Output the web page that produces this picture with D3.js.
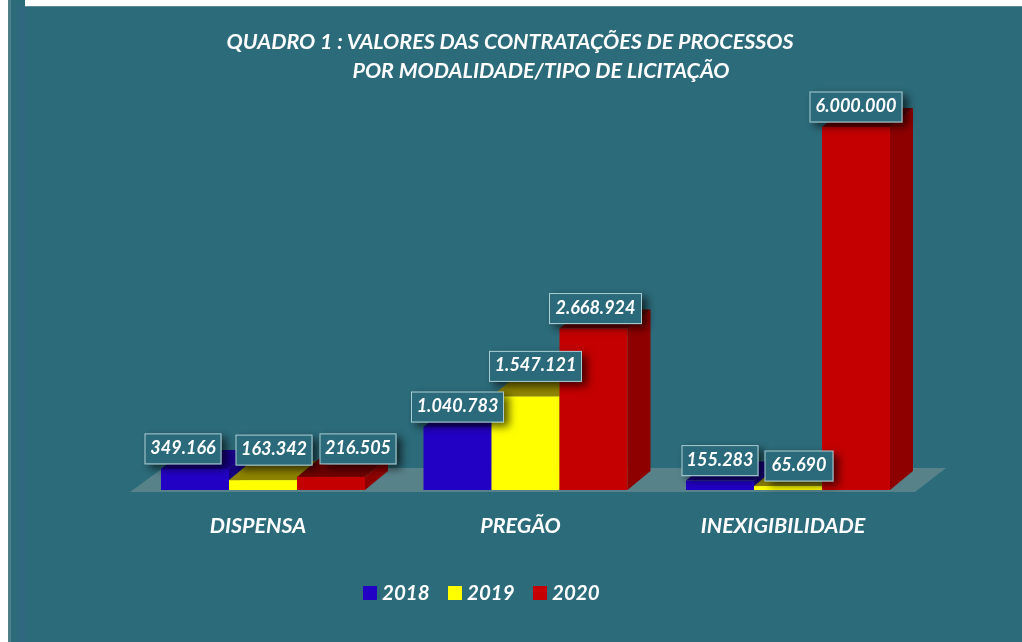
<!DOCTYPE html>
<html>
<head>
<meta charset="utf-8">
<script src="https://cdn.jsdelivr.net/npm/d3@7"></script>
<style>
html, body { margin: 0; padding: 0; background: #fff; }
svg { display: block; }
text { font-family: Lato, "Open Sans", sans-serif; font-weight: 700; font-style: italic; fill: #fff; }
</style>
</head>
<body>
<script>
const categories = ['DISPENSA', 'PREGÃO', 'INEXIGIBILIDADE'];
const years = ['2018', '2019', '2020'];
const values2018 = [349166, 1040783, 155283];
const values2019 = [163342, 1547121, 65690];
const values2020 = [216505, 2668924, 6000000];
const titleLines = ['QUADRO 1 : VALORES DAS CONTRATAÇÕES DE PROCESSOS', 'POR MODALIDADE/TIPO DE LICITAÇÃO'];

const width = 1022;
const height = 642;
const baseY = 490;   //Bottom of the bars.
const depthX = 23;   //Fake 3D offset of the bars.
const depthY = 19;

const series = [values2018, values2019, values2020];
const frontColours = ['#2200c4', '#ffff00', '#c40000'];
const topColours = ['#17008a', '#8f8500', '#6f0000'];
const sideColours = ['#150080', '#8f8500', '#8e0000'];

//Label box offset from the default spot above each bar: [series][category]
const labelNudge = [
  [[-12, 0], [0, 0], [0, 0]],
  [[11, -10], [10, -10], [11, 0]],
  [[27, -8], [2, 0], [0, 0]]
];

const x0 = d3.scaleBand().domain(categories).range([161, 890]).paddingInner(0.2229);
const x1 = d3.scaleBand().domain(years).range([0, x0.bandwidth()]);
const y = d3.scaleLinear().domain([0, 6000000]).range([baseY, 127]);
const fmt = d3.formatLocale({ decimal: ',', thousands: '.', grouping: [3], currency: ['', ''] }).format(',d');

const svg = d3.select('body').append('svg').attr('width', width).attr('height', height);
const defs = svg.append('defs');

const shadow = defs.append('filter').attr('id', 'box-shadow')
  .attr('x', '-30%').attr('y', '-40%').attr('width', '170%').attr('height', '190%');
shadow.append('feDropShadow').attr('dx', 5).attr('dy', 4).attr('stdDeviation', 4.5)
  .attr('flood-color', '#000').attr('flood-opacity', 0.65);

const soft = defs.append('filter').attr('id', 'soft');
soft.append('feGaussianBlur').attr('stdDeviation', 0.45);

//Panel
svg.append('rect').attr('x', 8).attr('y', 7).attr('width', width - 8).attr('height', height - 7).attr('fill', '#2c6b7a');
svg.append('rect').attr('x', 8).attr('y', 0).attr('width', 17).attr('height', 7).attr('fill', '#2c6b7a');
svg.append('rect').attr('x', 8).attr('y', 0).attr('width', 3).attr('height', height).attr('fill', '#4f7f88');
svg.append('rect').attr('x', 17).attr('y', 7).attr('width', 8).attr('height', height - 7).attr('fill', '#30697f');
svg.append('rect').attr('x', 25).attr('y', 6).attr('width', width - 25).attr('height', 1).attr('fill', '#5d8c97');

//Title
svg.append('text').attr('x', 510).attr('y', 49).attr('text-anchor', 'middle')
  .style('font-size', '21.5px').attr('filter', 'url(#soft)').text(titleLines[0]);
svg.append('text').attr('x', 541).attr('y', 78).attr('text-anchor', 'middle')
  .style('font-size', '21.5px').attr('filter', 'url(#soft)').text(titleLines[1]);

//Floor
svg.append('path').attr('d', d3.line()([[130, 492], [163, 468], [946, 468], [915, 492]])).attr('fill', '#58828a');

//Bars, back to front so the side faces overlap correctly
const bars = [];
categories.forEach((c, ci) => {
  years.forEach((yr, si) => {
    bars.push({ c, yr, si, ci, v: series[si][ci] });
  });
});

const barWidth = x1.bandwidth();
const barG = svg.append('g');

barG.selectAll('g').data(bars).enter().append('g').each(function (d) {
  const g = d3.select(this);
  const left = x0(d.c) + x1(d.yr);
  const right = left + barWidth;
  const top = y(d.v);
  //Top face
  g.append('path')
    .attr('d', d3.line()([[left, top], [left + depthX, top - depthY], [right + depthX, top - depthY], [right, top]]))
    .attr('fill', topColours[d.si]);
  //Side face
  g.append('path')
    .attr('d', d3.line()([[right, top], [right + depthX, top - depthY], [right + depthX, baseY - depthY], [right, baseY]]))
    .attr('fill', sideColours[d.si]);
});

barG.selectAll('rect').data(bars).enter().append('rect')
  .attr('x', d => x0(d.c) + x1(d.yr))
  .attr('y', d => y(d.v))
  .attr('width', barWidth)
  .attr('height', d => baseY - y(d.v))
  .attr('fill', d => frontColours[d.si]);

//Value labels
const labelG = svg.append('g');
bars.forEach(d => {
  const text = fmt(d.v);
  const w = text.length * 8 + 20;
  const boxH = 30;
  const nudge = labelNudge[d.si][d.ci];
  const cx = x0(d.c) + x1(d.yr) + barWidth / 2 + nudge[0];
  const cy = y(d.v) - 20 + nudge[1];
  labelG.append('rect')
    .attr('x', cx - w / 2).attr('y', cy - boxH / 2)
    .attr('width', w).attr('height', boxH)
    .attr('fill', '#2c6b7a').attr('stroke', '#a9ccd2').attr('stroke-width', 1)
    .attr('filter', 'url(#box-shadow)');
  labelG.append('text')
    .attr('x', cx).attr('y', cy + 5).attr('text-anchor', 'middle')
    .style('font-size', '18px').attr('filter', 'url(#soft)')
    .text(text);
});

//Category labels
svg.append('g').selectAll('text').data(categories).enter().append('text')
  .attr('x', d => x0(d) + x0.bandwidth() / 2 - 5)
  .attr('y', 533)
  .attr('text-anchor', 'middle')
  .style('font-size', '21.5px')
  .attr('filter', 'url(#soft)')
  .text(d => d);

//Legend
const legendX = d3.scaleBand().domain(years).range([363, 618]);
const legend = svg.append('g').selectAll('g').data(years).enter().append('g')
  .attr('transform', d => `translate(${legendX(d)},0)`);
legend.append('rect').attr('x', 0).attr('y', 586).attr('width', 14).attr('height', 14)
  .attr('fill', (d, i) => frontColours[i]);
legend.append('text').attr('x', 19).attr('y', 600)
  .style('font-size', '20.5px').attr('filter', 'url(#soft)').text(d => d);
</script>
</body>
</html>
